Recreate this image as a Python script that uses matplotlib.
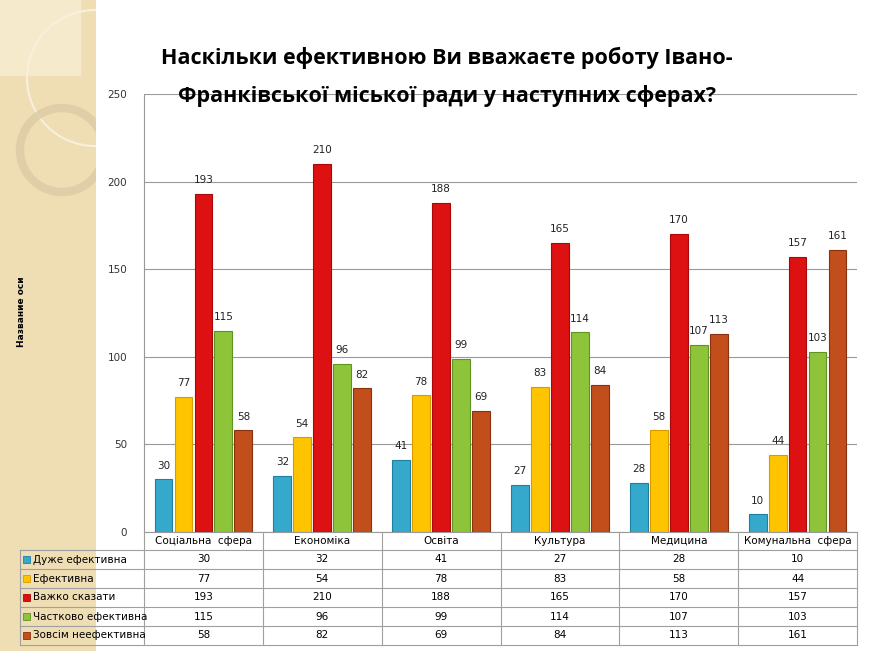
import matplotlib
matplotlib.use("Agg")
import matplotlib.pyplot as plt
from matplotlib.patches import Rectangle, Circle
import numpy as np

categories = ["Соціальна  сфера", "Економіка", "Освіта", "Культура", "Медицина", "Комунальна  сфера"]
series_names = ["Дуже ефективна", "Ефективна", "Важко сказати", "Частково ефективна", "Зовсім неефективна"]
very_effective = [30, 32, 41, 27, 28, 10]
effective = [77, 54, 78, 83, 58, 44]
hard_to_say = [193, 210, 188, 165, 170, 157]
partly_effective = [115, 96, 99, 114, 107, 103]
not_effective = [58, 82, 69, 84, 113, 161]
yticks = [0, 50, 100, 150, 200, 250]
colors = ["#35A9CC", "#FFC400", "#DD1111", "#8DC43A", "#C24E1C"]
edges = ["#1E7FA0", "#D99A00", "#A80808", "#5E9420", "#8A3210"]
series = [very_effective, effective, hard_to_say, partly_effective, not_effective]

W, H = 869, 651
fig = plt.figure(figsize=(W/100, H/100), dpi=100)
fig.patch.set_facecolor("white")

band = fig.add_axes([0, 0, 96/W, 1])
band.set_xlim(0, 96); band.set_ylim(H, 0); band.axis("off")
band.add_patch(Rectangle((0, 0), 96, H, color="#EFDDB4"))
band.add_patch(Rectangle((0, 0), 80, 75, color="#F6EACD"))
band.add_patch(Circle((95, 78), 68, fill=False, ec="#F8F0DC", lw=1.5))
band.add_patch(Circle((62, 150), 42, fill=False, ec="#DCCBA5", lw=6, alpha=0.8))

ax = fig.add_axes([144/W, (H-532)/H, 713/W, 438/H])
x = np.arange(len(categories))
bw = 0.15
for i, (vals, c, e) in enumerate(zip(series, colors, edges)):
    pos = x + (i - 2) * (bw + 0.018)
    ax.bar(pos, vals, bw, color=c, edgecolor=e, lw=0.8, zorder=3)
    for xp, v in zip(pos, vals):
        ax.text(xp, v + 5, str(v), ha="center", va="bottom", fontsize=7.5, color="#222222")
ax.set_xlim(-0.5, len(categories) - 0.5)
ax.set_ylim(0, 250)
ax.set_yticks(yticks)
ax.set_yticklabels([str(t) for t in yticks], fontsize=7.5, color="#333333")
ax.yaxis.grid(True, color="#999999", lw=0.8, zorder=0)
ax.set_xticks([])
for s in ["top", "right"]:
    ax.spines[s].set_visible(False)
ax.spines["left"].set_color("#999999")
ax.spines["bottom"].set_color("#999999")
ax.tick_params(axis="y", length=0, pad=12)

fig.text(22/W, 1 - 312/H, "Название оси", rotation=90, ha="center", va="center",
         fontsize=6.5, fontweight="bold")

fig.text(447/W, 1 - 58/H, "Наскільки ефективною Ви вважаєте роботу Івано-", ha="center",
         va="center", fontsize=15.5, fontweight="bold", family="Open Sans")
fig.text(447/W, 1 - 96/H, "Франківської міської ради у наступних сферах?", ha="center",
         va="center", fontsize=15.5, fontweight="bold", family="Open Sans")

tab = fig.add_axes([0, 0, 1, 1], facecolor="none")
tab.set_xlim(0, W); tab.set_ylim(H, 0); tab.axis("off")
lc = "#A0A0A0"
left, lab_r, right = 20, 144, 857
top_h, row0, rh = 532, 550, 19
colw = (right - lab_r) / len(categories)
for j in range(len(categories) + 1):
    xx = lab_r + j * colw
    tab.plot([xx, xx], [top_h, row0 + 5 * rh], color=lc, lw=0.8)
tab.plot([left, left], [row0, row0 + 5 * rh], color=lc, lw=0.8)
for r in range(6):
    yy = row0 + r * rh
    tab.plot([left, right], [yy, yy], color=lc, lw=0.8)
for j, cat in enumerate(categories):
    tab.text(lab_r + (j + 0.5) * colw, (top_h + row0) / 2, cat, ha="center", va="center", fontsize=7.5)
for r, (name, vals, c, e) in enumerate(zip(series_names, series, colors, edges)):
    yc = row0 + (r + 0.5) * rh
    tab.add_patch(Rectangle((23, yc - 3.5), 7, 7, facecolor=c, edgecolor=e, lw=0.6))
    tab.text(33, yc, name, ha="left", va="center", fontsize=7.5)
    for j, v in enumerate(vals):
        tab.text(lab_r + (j + 0.5) * colw, yc, str(v), ha="center", va="center", fontsize=7.5)

fig.savefig("out.png", dpi=100)
